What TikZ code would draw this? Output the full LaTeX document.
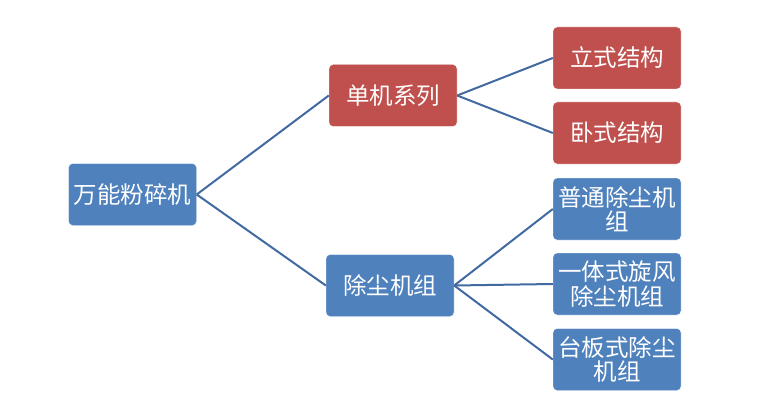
\documentclass[tikz,border=0pt]{standalone}
\usepackage{fontspec}
\newfontfamily\cjk{Noto Sans CJK SC}
\definecolor{boxblue}{RGB}{79,129,189}
\definecolor{boxred}{RGB}{192,80,77}
\definecolor{linkblue}{RGB}{66,106,160}

\begin{document}
\begin{tikzpicture}[x=1pt, y=-1pt]
    \tikzset{
        boxstyle/.style={rounded corners=4pt, draw=white, thin, minimum width=128pt, minimum height=62pt, inner sep=0pt, align=center, text=white, font=\cjk\fontsize{23.5}{24.5}\selectfont},
        bluebox/.style={boxstyle, fill=boxblue},
        redbox/.style={boxstyle, fill=boxred},
        linkstyle/.style={linkblue, line width=2pt}
    }
    \useasboundingbox (0,0) rectangle (783,414);

    % --- 1. RACINE ---
    \node[bluebox] (machine) at (132.5,194.5) {万能粉碎机};

    % --- 2. SERIES ---
    \node[redbox] (single) at (393,95.5) {单机系列};
    \node[bluebox] (dust) at (390,285.5) {除尘机组};

    % --- 3. TYPES ---
    \node[redbox] (upright) at (617,58) {立式结构};
    \node[redbox] (lying) at (617,133) {卧式结构};
    \node[bluebox] (common) at (617,209) {普通除尘机\\组};
    \node[bluebox] (cyclone) at (617,284) {一体式旋风\\除尘机组};
    \node[bluebox] (bench) at (617,359.5) {台板式除尘\\机组};

    % Liaisons
    \draw[linkstyle] (machine.east) -- (single.west);
    \draw[linkstyle] (machine.east) -- (dust.west);
    \foreach \t in {upright,lying} {
        \draw[linkstyle] (single.east) -- (\t.west);
    }
    \foreach \t in {common,cyclone,bench} {
        \draw[linkstyle] (dust.east) -- (\t.west);
    }
\end{tikzpicture}
\end{document}
